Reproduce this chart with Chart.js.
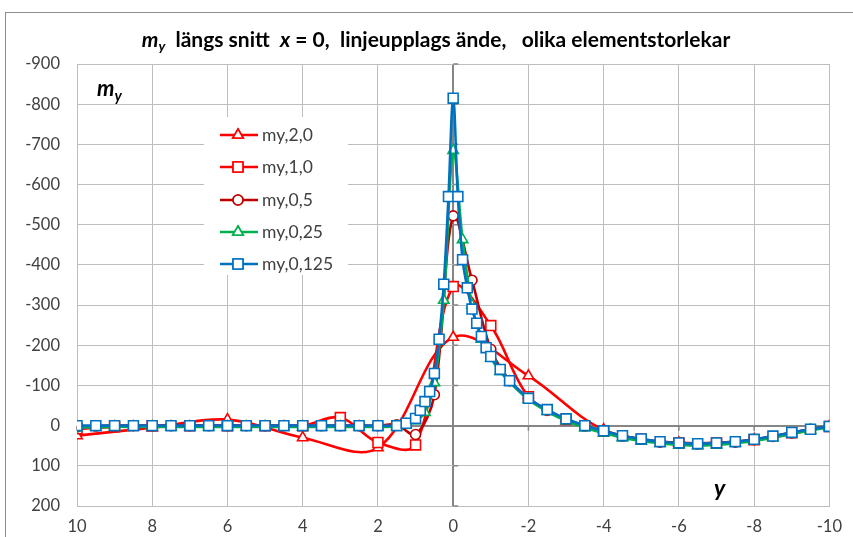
<!DOCTYPE html>
<html>
<head>
<meta charset="utf-8">
<script src="https://cdn.jsdelivr.net/npm/chart.js@4.4.0/dist/chart.umd.min.js"></script>
<style>
  body { margin: 0; background: #fff; }
</style>
</head>
<body>
<canvas id="chart-my" width="853" height="537"></canvas>
<script>
// x positions (y-coordinate along the cut) and m_y values for each element size
const xs20 = [10, 8, 6, 4, 2, 0, -2, -4, -6, -8, -10];
const my20 = [25, 5, -15, 30, 55, -220, -124, 10, 43, 35, 2];

const xs10 = [10, 9, 8, 7, 6, 5, 4, 3, 2, 1, 0, -1, -2, -3, -4, -5, -6, -7, -8, -9, -10];
const my10 = [8, 3, 0, 0, 0, 0, 0, -20, 42, 48, -346, -249, -72, -15, 14, 34, 43, 43, 35, 18, 2];

const xs05 = [10, 9.5, 9, 8.5, 8, 7.5, 7, 6.5, 6, 5.5, 5, 4.5, 4, 3.5, 3, 2.5, 2, 1.5,
  1, 0.5, 0, -0.5, -1, -1.5, -2, -2.5, -3, -3.5, -4, -4.5, -5, -5.5, -6, -6.5, -7, -7.5, -8, -8.5, -9, -9.5, -10];
const my05 = [3, 1, 0, 0, 0, 0, 0, 0, 0, 0, 0, 0, 0, 0, 0, 0, 0, -2,
  22, -77, -522, -362, -190, -112, -68, -38, -16, 1, 14, 26, 34, 41, 44, 46, 44, 41, 35, 27, 18, 9, 2];

const xs025 = [10, 9.5, 9, 8.5, 8, 7.5, 7, 6.5, 6, 5.5, 5, 4.5, 4, 3.5, 3, 2.5, 2, 1.5,
  1.25, 1, 0.75, 0.5, 0.25, 0, -0.25, -0.5, -0.75, -1, -1.25,
  -1.5, -2, -2.5, -3, -3.5, -4, -4.5, -5, -5.5, -6, -6.5, -7, -7.5, -8, -8.5, -9, -9.5, -10];
const my025 = [5, 4, 3, 3, 3, 3, 3, 3, 3, 3, 3, 3, 3, 3, 3, 3, 3, 2,
  -3, -12, -33, -107, -312, -685, -463, -300, -215, -168, -135,
  -108, -65, -35, -12, 5, 18, 30, 38, 44, 48, 50, 48, 44, 38, 30, 21, 12, 4];

const xs0125 = [10, 9.5, 9, 8.5, 8, 7.5, 7, 6.5, 6, 5.5, 5, 4.5, 4, 3.5, 3, 2.5, 2, 1.5,
  1.25, 1, 0.875, 0.75, 0.625, 0.5, 0.375, 0.25, 0.125, 0, -0.125, -0.25, -0.375, -0.5, -0.625, -0.75, -0.875, -1, -1.25,
  -1.5, -2, -2.5, -3, -3.5, -4, -4.5, -5, -5.5, -6, -6.5, -7, -7.5, -8, -8.5, -9, -9.5, -10];
const my0125 = [0, 0, 0, 0, 0, 0, 0, 0, 0, 0, 0, 0, 0, 0, 0, 0, 0, 0,
  -6, -18, -38, -60, -85, -130, -215, -352, -570, -815, -570, -413, -343, -290, -255, -222, -194, -172, -140,
  -112, -68, -40, -17, 0, 13, 25, 33, 40, 43, 45, 43, 40, 34, 26, 17, 9, 2];

const seriesNames = ['my,2,0', 'my,1,0', 'my,0,5', 'my,0,25', 'my,0,125'];
const xTicks = [10, 8, 6, 4, 2, 0, -2, -4, -6, -8, -10];
const yTicks = [-900, -800, -700, -600, -500, -400, -300, -200, -100, 0, 100, 200];

function pts(xs, ys) {
  return xs.map((x, i) => ({ x: x, y: ys[i] }));
}

function series(label, xs, ys, color, style, radius, order) {
  return {
    label: label,
    data: pts(xs, ys),
    showLine: true,
    borderColor: color,
    borderWidth: 2.6,
    tension: 0.35,
    pointStyle: style,
    pointRadius: radius,
    pointBorderColor: color,
    pointBackgroundColor: '#fff',
    pointBorderWidth: 1.6,
    order: order
  };
}

// draw pieces of text with different fonts one after another
function drawRuns(ctx, runs, x, y, align) {
  let w = 0;
  runs.forEach(r => { ctx.font = r.font; w += ctx.measureText(r.t).width; });
  let cx = align === 'center' ? x - w / 2 : x;
  ctx.textAlign = 'left';
  ctx.textBaseline = 'alphabetic';
  runs.forEach(r => {
    ctx.font = r.font;
    ctx.fillText(r.t, cx, y + (r.dy || 0));
    cx += ctx.measureText(r.t).width;
  });
}

const decor = {
  id: 'decor',
  beforeDraw(chart) {
    const ctx = chart.ctx;
    ctx.save();
    ctx.fillStyle = '#fff';
    ctx.fillRect(0, 0, chart.width, chart.height);
    ctx.strokeStyle = '#8c8c8c';
    ctx.lineWidth = 1;
    ctx.strokeRect(5.5, 12.5, 1000, 600);
    ctx.restore();
  },
  beforeDatasetsDraw(chart) {
    // little tick marks on the zero axes
    const ctx = chart.ctx;
    const xs = chart.scales.x, ys = chart.scales.y;
    const x0 = xs.getPixelForValue(0), y0 = ys.getPixelForValue(0);
    ctx.save();
    ctx.strokeStyle = '#868686';
    ctx.lineWidth = 1.5;
    ctx.beginPath();
    yTicks.forEach(v => {
      const py = ys.getPixelForValue(v);
      ctx.moveTo(x0, py); ctx.lineTo(x0 + 5, py);
    });
    xTicks.forEach(v => {
      const px = xs.getPixelForValue(v);
      ctx.moveTo(px, y0); ctx.lineTo(px, y0 + 5);
    });
    ctx.stroke();
    ctx.restore();
  },
  afterDraw(chart) {
    const ctx = chart.ctx;
    ctx.save();
    ctx.fillStyle = '#000';
    // title
    drawRuns(ctx, [
      { t: 'm', font: 'italic bold 21px Lato' },
      { t: 'y', font: 'italic bold 14px Lato', dy: 4 },
      { t: '  längs snitt  ', font: 'bold 21px Lato' },
      { t: 'x', font: 'italic bold 21px Lato' },
      { t: ' = 0,  linjeupplags ände,   olika elementstorlekar', font: 'bold 21px Lato' }
    ], 436, 47, 'center');
    // axis names inside the plot
    drawRuns(ctx, [
      { t: 'm', font: 'italic bold 22px Lato' },
      { t: 'y', font: 'italic bold 15px Lato', dy: 5 }
    ], 97, 96, 'left');
    drawRuns(ctx, [{ t: 'y', font: 'italic bold 23px Lato' }], 714, 496, 'left');

    // legend box
    ctx.fillStyle = '#fff';
    ctx.fillRect(204, 117, 144, 158);
    const rowY = [135, 167, 200, 232, 264];
    chart.data.datasets.forEach((ds, i) => {
      const y = rowY[i];
      ctx.strokeStyle = ds.borderColor;
      ctx.lineWidth = 2.6;
      ctx.beginPath();
      ctx.moveTo(220, y); ctx.lineTo(258, y);
      ctx.stroke();
      ctx.fillStyle = '#fff';
      ctx.lineWidth = 1.6;
      Chart.helpers.drawPoint(ctx, { pointStyle: ds.pointStyle, radius: ds.pointRadius, borderWidth: 1.6 }, 238, y);
      ctx.fill();
      ctx.stroke();
      ctx.fillStyle = '#404040';
      ctx.font = '17.5px Lato';
      ctx.textBaseline = 'middle';
      ctx.fillText(seriesNames[i], 262, y);
    });
    ctx.restore();
  }
};

const ctx = document.getElementById('chart-my');
new Chart(ctx, {
  type: 'scatter',
  data: {
    datasets: [
      series(seriesNames[0], xs20, my20, '#ff0000', 'triangle', 6, 5),
      series(seriesNames[1], xs10, my10, '#ff0000', 'rect', 7, 4),
      series(seriesNames[2], xs05, my05, '#c00000', 'circle', 5, 3),
      series(seriesNames[3], xs025, my025, '#00b050', 'triangle', 6, 2),
      series(seriesNames[4], xs0125, my0125, '#0070c0', 'rect', 7, 1)
    ]
  },
  options: {
    responsive: false,
    animation: false,
    layout: { padding: { left: 0, top: 64, right: 23, bottom: 0 } },
    plugins: {
      legend: { display: false },
      title: { display: false },
      tooltip: { enabled: false }
    },
    scales: {
      x: {
        type: 'linear',
        reverse: true,
        min: -10,
        max: 10,
        afterFit(scale) { scale.height = 31; },
        afterBuildTicks(scale) { scale.ticks = xTicks.map(v => ({ value: v })); },
        grid: {
          color: c => c.tick && c.tick.value === 0 ? '#868686' : '#bdbdbd',
          lineWidth: c => c.tick && c.tick.value === 0 ? 2 : 1,
          drawTicks: false
        },
        border: { color: '#bdbdbd' },
        ticks: { color: '#404040', font: { family: 'Lato', size: 16.5 }, padding: 11 }
      },
      y: {
        type: 'linear',
        reverse: true,
        min: -900,
        max: 200,
        afterFit(scale) { scale.width = 77; },
        afterBuildTicks(scale) { scale.ticks = yTicks.map(v => ({ value: v })); },
        grid: {
          color: c => c.tick && c.tick.value === 0 ? '#868686' : '#bdbdbd',
          lineWidth: c => c.tick && c.tick.value === 0 ? 2 : 1,
          drawTicks: false
        },
        border: { color: '#bdbdbd' },
        ticks: { color: '#404040', font: { family: 'Lato', size: 16.5 }, padding: 17 }
      }
    }
  },
  plugins: [decor]
});
</script>
</body>
</html>
